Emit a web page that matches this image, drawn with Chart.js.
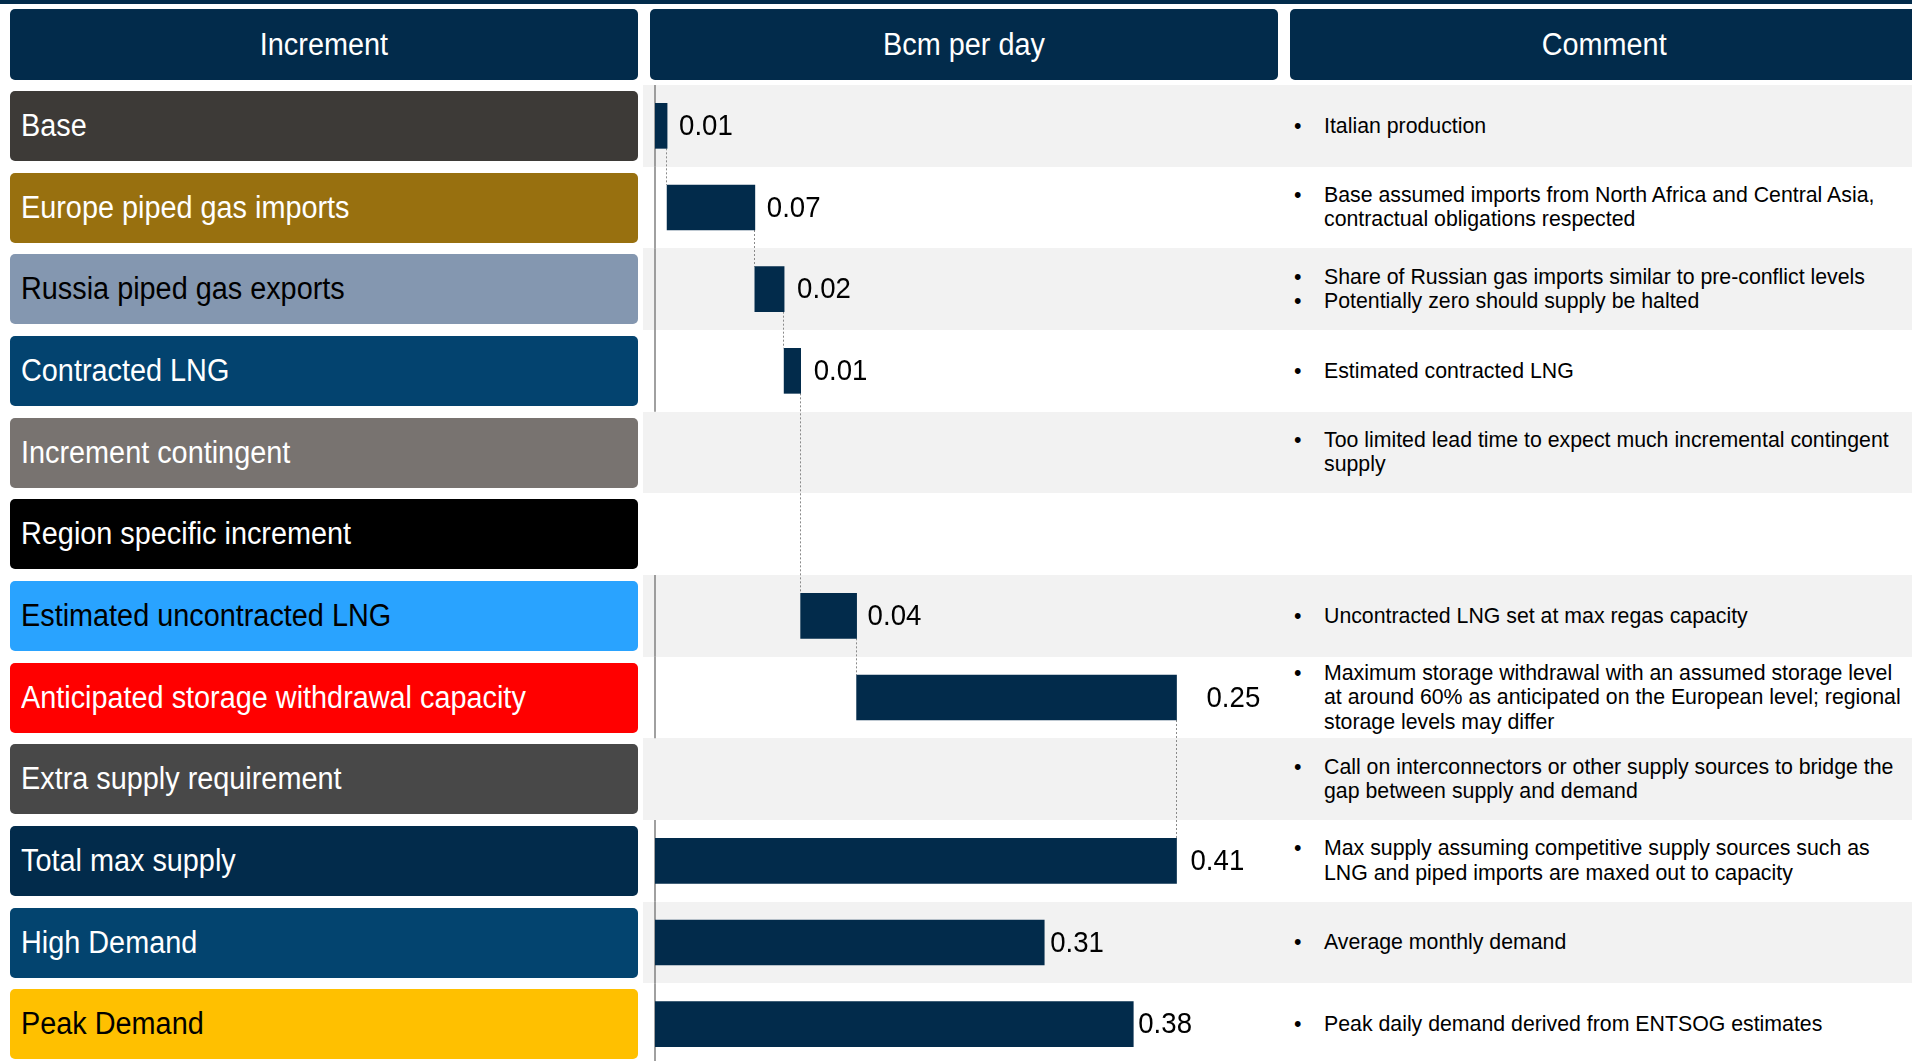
<!DOCTYPE html>
<html>
<head>
<meta charset="utf-8">
<script src="https://cdn.jsdelivr.net/npm/chart.js@4"></script>
<style>
body { margin: 0; width: 1912px; height: 1061px; overflow: hidden; background: #fff; position: relative;
  font-family: "Liberation Sans", Arial, sans-serif; }
.topline { position: absolute; left: 0; top: 0; width: 1912px; height: 4px; background: #022b4b; }
.head { position: absolute; top: 9px; height: 71px; width: 628px; border-radius: 5px; background: #022b4b;
  color: #fff; display: flex; align-items: center; justify-content: center; font-size: 31px; }
.cond { display: inline-block; transform: scaleX(0.93); white-space: nowrap; }
.band { position: absolute; left: 643px; width: 1269px; }
.box { position: absolute; left: 10px; width: 628px; height: 70px; border-radius: 5px; box-sizing: border-box;
  padding-left: 11px; display: flex; align-items: center; font-size: 31px; }
.box .cond { transform-origin: left center; }
.note { position: absolute; left: 1294px; width: 618px; display: flex; flex-direction: column;
  justify-content: center; font-size: 21.3px; line-height: 24.4px; color: #000; }
.note div { position: relative; padding-left: 30px; white-space: pre; }
.note div::before { content: "\2022"; position: absolute; left: 0; }
#wrap { position: absolute; left: 643px; top: 85px; width: 648px; height: 980px; }
</style>
</head>
<body>
<div class="topline"></div>
<div class="head" style="left:10px"><span class="cond">Increment</span></div>
<div class="head" style="left:650px"><span class="cond">Bcm per day</span></div>
<div class="head" style="left:1290px"><span class="cond">Comment</span></div>
<div id="rows"></div>
<div id="wrap"><canvas id="chart" width="648" height="980"></canvas></div>
<script>
// rows, top to bottom
const categories = [
  'Base', 'Europe piped gas imports', 'Russia piped gas exports', 'Contracted LNG',
  'Increment contingent', 'Region specific increment', 'Estimated uncontracted LNG',
  'Anticipated storage withdrawal capacity', 'Extra supply requirement',
  'Total max supply', 'High Demand', 'Peak Demand',
]
// supply increments stacked as a waterfall (bcm/day), null = no bar
const supplySteps = [0.0095, 0.069, 0.023, 0.013, null, null, 0.044, 0.2515, null]
// Total max supply, High Demand, Peak Demand, drawn from zero
const totals = [0.41, 0.306, 0.376]

const comments = [
  ['Italian production'],
  ['Base assumed imports from North Africa and Central Asia,\ncontractual obligations respected'],
  ['Share of Russian gas imports similar to pre-conflict levels', 'Potentially zero should supply be halted'],
  ['Estimated contracted LNG'],
  ['Too limited lead time to expect much incremental contingent\nsupply'],
  [],
  ['Uncontracted LNG set at max regas capacity'],
  ['Maximum storage withdrawal with an assumed storage level\nat around 60% as anticipated on the European level; regional\nstorage levels may differ'],
  ['Call on interconnectors or other supply sources to bridge the\ngap between supply and demand'],
  ['Max supply assuming competitive supply sources such as\nLNG and piped imports are maxed out to capacity'],
  ['Average monthly demand'],
  ['Peak daily demand derived from ENTSOG estimates'],
]

const boxColors = ['#3d3a37', '#98700f', '#8497b0', '#03436f', '#787370', '#000000',
  '#29a3ff', '#ff0000', '#484848', '#022b4b', '#03446f', '#ffc000']
const textColors = ['#fff', '#fff', '#000', '#fff', '#fff', '#fff', '#000', '#fff', '#fff', '#fff', '#fff', '#000']
const labelGap = [12, 12, 13, 13, 0, 0, 11, 30, 0, 14, 6, 5]

const NAVY = '#022b4b'
const ROW_TOP = 85
const ROW_H = 980 / categories.length
const BAR_H = 45

// ---- table (bands, coloured label boxes, comments) ----
const rowsEl = document.getElementById('rows')
categories.forEach((name, i) => {
  const top = ROW_TOP + i * ROW_H
  if (i % 2 === 0) {
    const band = document.createElement('div')
    band.className = 'band'
    band.style.cssText = `top:${top}px;height:${ROW_H}px;background:#f2f2f2`
    rowsEl.appendChild(band)
  }
  const box = document.createElement('div')
  box.className = 'box'
  box.style.cssText = `top:${top + (ROW_H - 70) / 2}px;background:${boxColors[i]};color:${textColors[i]}`
  box.innerHTML = `<span class="cond">${name}</span>`
  rowsEl.appendChild(box)
  const note = document.createElement('div')
  note.className = 'note'
  note.style.cssText = `top:${top}px;height:${ROW_H}px`
  for (const c of comments[i]) {
    const d = document.createElement('div')
    d.textContent = c
    note.appendChild(d)
  }
  rowsEl.appendChild(note)
})

// ---- waterfall bars ----
let running = 0
const bars = supplySteps.map(v => {
  if (v == null) return null
  const b = [running, running + v]
  running += v
  return b
}).concat(totals.map(v => [0, v]))
const values = supplySteps.concat(totals)
const totalRow = supplySteps.length

const decor = {
  id: 'decor',
  beforeDatasetsDraw(chart) {
    const { ctx, chartArea, scales: { x, y } } = chart
    ctx.save()
    // axis line only through rows that carry a bar
    ctx.strokeStyle = '#808080'
    ctx.lineWidth = 1.5
    bars.forEach((b, i) => {
      if (!b) return
      const cy = y.getPixelForValue(i)
      ctx.beginPath()
      ctx.moveTo(chartArea.left, cy - ROW_H / 2)
      ctx.lineTo(chartArea.left, cy + ROW_H / 2)
      ctx.stroke()
    })
    // dotted step connectors down to the total bar
    ctx.setLineDash([2, 2])
    ctx.lineWidth = 1
    ctx.strokeStyle = '#8a8a8a'
    for (let i = 0; i < totalRow; i++) {
      if (!bars[i]) continue
      let j = i + 1
      while (!bars[j]) j++
      const px = Math.round(x.getPixelForValue(bars[i][1])) - 0.5
      ctx.beginPath()
      ctx.moveTo(px, y.getPixelForValue(i) + BAR_H / 2)
      ctx.lineTo(px, y.getPixelForValue(j) - BAR_H / 2)
      ctx.stroke()
    }
    ctx.restore()
  },
  afterDatasetsDraw(chart) {
    const { ctx, scales: { x, y } } = chart
    ctx.save()
    ctx.font = '30px "Liberation Sans", Arial, sans-serif'
    ctx.fillStyle = '#000'
    ctx.textBaseline = 'middle'
    bars.forEach((b, i) => {
      if (!b) return
      ctx.save()
      ctx.translate(x.getPixelForValue(b[1]) + labelGap[i], y.getPixelForValue(i) + 1)
      ctx.scale(0.92, 1)
      ctx.fillText(values[i].toFixed(2), 0, 0)
      ctx.restore()
    })
    ctx.restore()
  },
}

new Chart(document.getElementById('chart'), {
  type: 'bar',
  data: {
    labels: categories,
    datasets: [{ data: bars, backgroundColor: NAVY, barThickness: BAR_H, borderWidth: 0 }],
  },
  options: {
    indexAxis: 'y',
    responsive: false,
    animation: false,
    devicePixelRatio: 1,
    layout: { padding: { left: 12, right: 0, top: 0, bottom: 0 } },
    scales: {
      x: { type: 'linear', min: 0, max: 0.5, display: false },
      y: { type: 'category', display: false },
    },
    plugins: { legend: { display: false }, tooltip: { enabled: false } },
  },
  plugins: [decor],
})
</script>
</body>
</html>
